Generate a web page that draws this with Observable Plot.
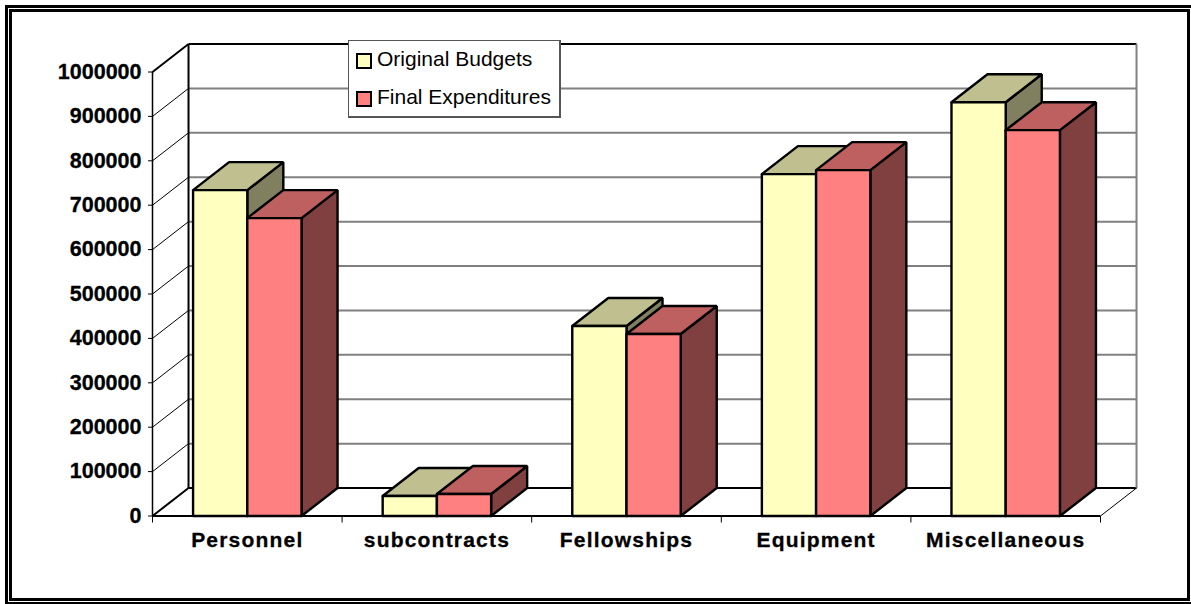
<!DOCTYPE html>
<html>
<head>
<meta charset="utf-8">
<script src="https://cdn.jsdelivr.net/npm/d3@7"></script>
<script src="https://cdn.jsdelivr.net/npm/@observablehq/plot@0.6"></script>
<style>
  html, body { margin: 0; padding: 0; background: #fff; overflow: hidden; }
  #page { position: relative; width: 1191px; height: 604px; overflow: hidden; background: #fff; font-family: "Liberation Sans", Arial, sans-serif; }
  #page svg { position: absolute; left: 0; top: 0; }
  .frame { position: absolute; border: 3px solid #000; box-sizing: border-box; pointer-events: none; }
  #outer { left: 5px; top: 5px; width: 1200px; height: 600px; }
  #inner { left: 9px; top: 9px; width: 1181px; height: 592px; }
  #legend { position: absolute; left: 348px; top: 40px; width: 213px; height: 78px; box-sizing: border-box; background: #fff; border: 1px solid #555; border-bottom-width: 2px; border-right-width: 2px; font-size: 21px; color: #000; }
  #legend div { position: absolute; left: 7px; white-space: nowrap; line-height: 24px; }
  #legend i { display: inline-block; width: 16px; height: 16px; box-sizing: border-box; border: 2px solid #000; margin-right: 5px; vertical-align: -3px; }
  g[aria-label="x-axis tick label"] text { letter-spacing: 1.2px; }
  g[aria-label="x-axis tick label"] text, g[aria-label="y-axis tick label"] text { stroke: #000; stroke-width: 0.3px; }
</style>
</head>
<body>
<div id="page"></div>
<script>
// Budget against spending per category, shown as Excel-style 3-D columns.
const categories = ["Personnel", "subcontracts", "Fellowships", "Equipment", "Miscellaneous"];
const originalBudgets = [734000, 45000, 428000, 770000, 932000];
const finalExpenditures = [671000, 49500, 410000, 779000, 869000];
const valueTicks = [0, 100000, 200000, 300000, 400000, 500000, 600000, 700000, 800000, 900000, 1000000];

const seriesStyles = [
  {name: "Original Budgets", values: originalBudgets, side: -1, front: "#ffffc0", top: "#bfbf90", flank: "#808060"},
  {name: "Final Expenditures", values: finalExpenditures, side: 0, front: "#ff8080", top: "#bf6060", flank: "#804040"}
];

// Oblique depth of the chart box and the column width, in scale units.
const depthX = 0.19;
const depthY = 63000;
const barWidth = 0.286;
const valueMax = 1000000;

// Every column contributes three closed faces: flank, top, front.
const facePoints = [];
function addFace(id, color, corners) {
  for (const [x, y] of [...corners, corners[0]]) facePoints.push({id, color, x, y});
}
categories.forEach((category, i) => {
  seriesStyles.forEach((s) => {
    const x0 = i + 0.5 + s.side * barWidth;
    const x1 = x0 + barWidth;
    const v = s.values[i];
    const key = `${category}-${s.name}`;
    addFace(`${key}-flank`, s.flank, [[x1, 0], [x1 + depthX, depthY], [x1 + depthX, v + depthY], [x1, v]]);
    addFace(`${key}-top`, s.top, [[x0, v], [x0 + depthX, v + depthY], [x1 + depthX, v + depthY], [x1, v]]);
    addFace(`${key}-front`, s.front, [[x0, 0], [x0, v], [x1, v], [x1, 0]]);
  });
});

const innerTicks = valueTicks.slice(1, -1);
const n = categories.length;

const chart = Plot.plot({
  width: 1191,
  height: 604,
  marginLeft: 152,
  marginRight: 91,
  marginTop: 71.5,
  marginBottom: 88.5,
  style: {background: "transparent", fontFamily: "'Liberation Sans', Arial, sans-serif"},
  x: {domain: [0, n], axis: null},
  y: {domain: [0, valueMax], axis: null},
  color: {type: "identity"},
  marks: [
    // Back wall grid
    Plot.link(innerTicks, {x1: depthX, x2: n + depthX, y1: (d) => d + depthY, y2: (d) => d + depthY, stroke: "#808080", strokeWidth: 2}),
    Plot.link([depthY, valueMax + depthY], {x1: depthX, x2: n + depthX, y1: (d) => d, y2: (d) => d, stroke: "#000", strokeWidth: 2}),
    Plot.link([0], {x1: n + depthX, x2: n + depthX, y1: depthY, y2: valueMax + depthY, stroke: "#808080", strokeWidth: 2}),
    // Side wall: diagonals at each tick and the two uprights
    Plot.link(innerTicks, {x1: 0, x2: depthX, y1: (d) => d, y2: (d) => d + depthY, stroke: "#000", strokeWidth: 1}),
    Plot.link([0, valueMax], {x1: 0, x2: depthX, y1: (d) => d, y2: (d) => d + depthY, stroke: "#000", strokeWidth: 2}),
    Plot.link([0], {x1: depthX, x2: depthX, y1: depthY, y2: valueMax + depthY, stroke: "#000", strokeWidth: 2}),
    Plot.ruleX([0], {stroke: "#000", strokeWidth: 1.5}),
    // Floor
    Plot.link([0], {x1: n, x2: n + depthX, y1: 0, y2: depthY, stroke: "#000", strokeWidth: 1}),
    // Columns
    Plot.line(facePoints, {x: "x", y: "y", z: "id", fill: "color", stroke: "#000", strokeWidth: 2.4, strokeLinejoin: "miter"}),
    Plot.ruleY([0], {stroke: "#000", strokeWidth: 2}),
    // Axes
    Plot.axisY({label: null, ticks: valueTicks, tickFormat: (d) => String(d), tickSize: 4, tickPadding: 7, fontSize: 21.5, fontWeight: "bold", fill: "#000", stroke: "#000"}),
    Plot.axisX({label: null, ticks: d3.range(0, n + 1), tickSize: 7, tickFormat: () => "", stroke: "#000"}),
    Plot.axisX({
      label: null,
      ticks: d3.range(0, n).map((i) => i + 0.5),
      tickFormat: (d) => categories[d - 0.5],
      tickSize: 0,
      tickPadding: 16,
      fontSize: 21,
      fontWeight: "bold",
      fill: "#000"
    })
  ]
});

const page = document.getElementById("page");
page.append(chart);

// Legend box sits on top of the back wall
const legend = document.createElement("div");
legend.id = "legend";
seriesStyles.forEach((s, i) => {
  const row = document.createElement("div");
  row.style.top = `${6 + i * 38}px`;
  const swatch = document.createElement("i");
  swatch.style.background = s.front;
  row.append(swatch, s.name);
  legend.append(row);
});
page.append(legend);

// Double rule around the whole chart
for (const id of ["outer", "inner"]) {
  const rule = document.createElement("div");
  rule.id = id;
  rule.className = "frame";
  page.append(rule);
}
</script>
</body>
</html>
